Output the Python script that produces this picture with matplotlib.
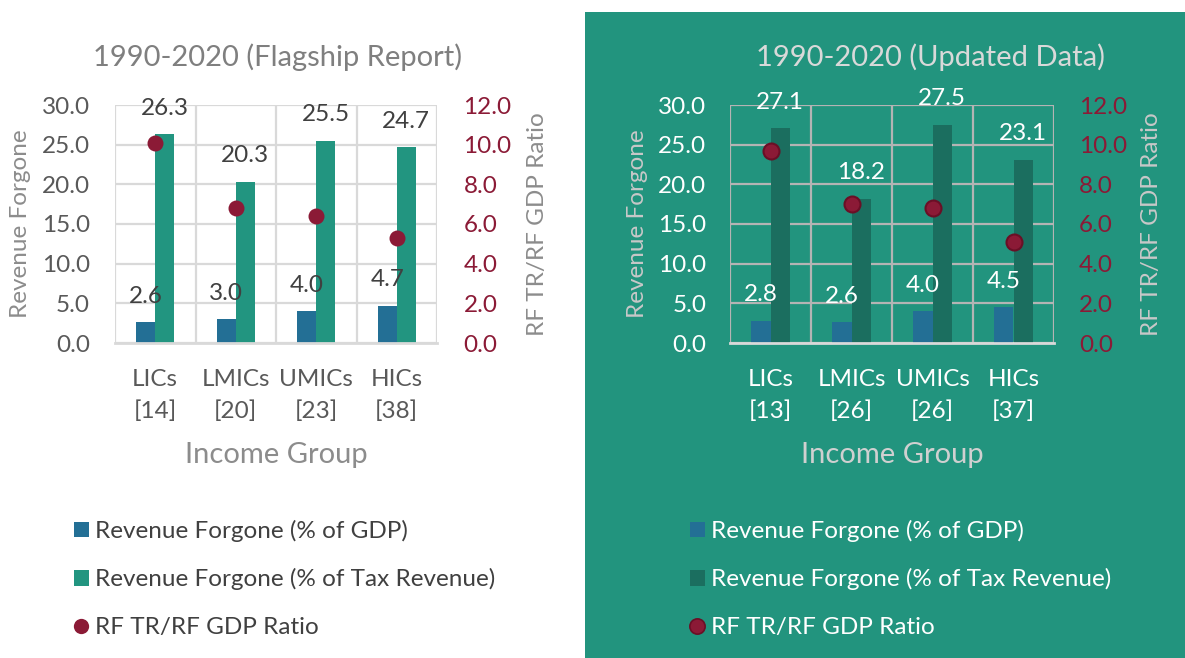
import matplotlib
matplotlib.use("Agg")
import matplotlib.pyplot as plt
import numpy as np
from matplotlib.patches import Rectangle, Patch
from matplotlib.lines import Line2D

plt.rcParams['font.family'] = ['Lato', 'DejaVu Sans']

categories = ["LICs", "LMICs", "UMICs", "HICs"]
flagship_counts = [14, 20, 23, 38]
updated_counts = [13, 26, 26, 37]
flagship_gdp = [2.6, 3.0, 4.0, 4.7]
flagship_tax = [26.3, 20.3, 25.5, 24.7]
flagship_ratio = [10.1, 6.8, 6.4, 5.3]
updated_gdp = [2.8, 2.6, 4.0, 4.5]
updated_tax = [27.1, 18.2, 27.5, 23.1]
updated_ratio = [9.7, 7.0, 6.8, 5.1]
left_ticks = [0, 5, 10, 15, 20, 25, 30]
right_ticks = [0, 2, 4, 6, 8, 10, 12]
legend_labels = ["Revenue Forgone (% of GDP)",
                 "Revenue Forgone (% of Tax Revenue)",
                 "RF TR/RF GDP Ratio"]

W, H = 1185, 658
DPI = 100
fig = plt.figure(figsize=(W / DPI, H / DPI), dpi=DPI)
fig.patch.set_facecolor('white')

PANEL = '#22947E'
fig.patches.append(Rectangle((585 / W, 0), 600 / W, (H - 12) / H,
                             transform=fig.transFigure, facecolor=PANEL,
                             edgecolor='none', zorder=-10))

FS = 17.5
RED = '#8B1A36'


def px(x, y, w, h):
    return [x / W, (H - y - h) / H, w / W, h / H]


def draw(rect, gdp, tax, ratio, counts, title, title_x, style):
    ax = fig.add_axes(px(*rect))
    ax.set_facecolor('none')
    ax2 = ax.twinx()
    x = np.arange(len(categories))
    w = 0.235
    ax.bar(x - w / 2, gdp, w, color=style['blue'], zorder=3)
    ax.bar(x + w / 2, tax, w, color=style['green'], zorder=3)
    ax2.plot(x, ratio, 'o', ms=11.5, color=RED, mec=style['dot_edge'],
             mew=style['dot_mew'], zorder=5)
    ax.set_xlim(-0.5, 3.5)
    ax.set_ylim(0, 30)
    ax2.set_ylim(0, 12)
    ax.set_yticks(left_ticks)
    ax.set_yticklabels([f"{v:.1f}" for v in left_ticks])
    ax2.set_yticks(right_ticks)
    ax2.set_yticklabels([f"{v:.1f}" for v in right_ticks])
    ax.set_xticks(x)
    ax.set_xticklabels([f"{c}\n[{n}]" for c, n in zip(categories, counts)],
                       linespacing=1.55)
    ax.set_xticks(np.arange(-0.5, 4.0, 1.0), minor=True)
    ax.tick_params(axis='x', which='minor', length=0)
    for a in (ax, ax2):
        for s in a.spines.values():
            s.set_visible(False)
    ax.grid(axis='y', which='major', color=style['grid'], lw=1.6, zorder=0)
    ax.grid(axis='x', which='minor', color=style['grid'], lw=1.6, zorder=0)
    ax.tick_params(axis='y', length=0, pad=style['lpad'], labelsize=FS,
                   labelcolor=style['tick'])
    ax.tick_params(axis='x', which='major', length=0, pad=19, labelsize=FS,
                   labelcolor=style['tick'])
    ax2.tick_params(axis='y', length=0, pad=style['rpad'], labelsize=FS,
                    labelcolor=RED)
    ax.axhline(0, color=style['base'], lw=2, zorder=4, clip_on=False)
    for xi, v in zip(x - w / 2, gdp):
        ax.annotate(f"{v:.1f}", (xi, v), xytext=(0, 26),
                    textcoords='offset pixels', ha='center', va='center',
                    fontsize=FS, color=style['label'], zorder=6)
    for xi, v in zip(x + w / 2, tax):
        ax.annotate(f"{v:.1f}", (xi, v), xytext=(0, 26),
                    textcoords='offset pixels', ha='center', va='center',
                    fontsize=FS, color=style['label'], zorder=6)
    ax.set_ylabel("Revenue Forgone", fontsize=FS, color=style['axlabel'])
    ax.yaxis.set_label_coords((style['ylab_x'] - rect[0]) / rect[2], 0.5)
    ax2.set_ylabel("RF TR/RF GDP Ratio", fontsize=FS, color=style['axlabel'],
                   rotation=90)
    ax2.yaxis.set_label_coords((style['y2lab_x'] - rect[0]) / rect[2], 0.5)
    ax.set_xlabel("Income Group", fontsize=21, color=style['xlabel'])
    ax.xaxis.set_label_coords(0.5, -(442 - (rect[1] + rect[3])) / rect[3])
    fig.text(title_x / W, 1 - 57 / H, title, fontsize=21,
             color=style['title'], ha='center', va='center')
    return ax


left_style = dict(blue='#236F95', green='#229580', dot_edge=RED, dot_mew=0,
                  grid='#D9D9D9', base='#D9D9D9', tick='#595959',
                  label='#404040', axlabel='#8C8C8C', xlabel='#8C8C8C',
                  title='#7F7F7F', lpad=18, rpad=19, ylab_x=31, y2lab_x=527)
right_style = dict(blue='#236F95', green='#1B6E5F', dot_edge='#6A0F26',
                   dot_mew=1.5, grid='#B4B4B4', base='#D9D9D9',
                   tick='#FFFFFF', label='#FFFFFF', axlabel='#C8C8C8',
                   xlabel='#D0D0D0', title='#D9D9D9', lpad=17, rpad=18,
                   ylab_x=648, y2lab_x=1141)

draw((115, 105, 322, 238), flagship_gdp, flagship_tax, flagship_ratio,
     flagship_counts, "1990-2020 (Flagship Report)", 278, left_style)
draw((730, 105, 324, 238), updated_gdp, updated_tax, updated_ratio,
     updated_counts, "1990-2020 (Updated Data)", 930, right_style)


def make_legend(x0, y0, blue, green, dot_edge, mew, tcolor):
    handles = [Patch(facecolor=blue, edgecolor='none'),
               Patch(facecolor=green, edgecolor='none'),
               Line2D([], [], ls='none', marker='o', ms=11, color=RED,
                      mec=dot_edge, mew=mew)]
    leg = fig.legend(handles, legend_labels, loc='upper left',
                     bbox_to_anchor=(x0 / W, 1 - y0 / H), frameon=False,
                     fontsize=FS, labelcolor=tcolor, handlelength=0.6,
                     handleheight=0.6, handletextpad=0.25, labelspacing=1.08,
                     borderpad=0, borderaxespad=0)
    return leg


make_legend(74, 520, '#236F95', '#229580', RED, 0, '#404040')
make_legend(690, 520, '#236F95', '#1B6E5F', '#6A0F26', 1.2, '#FFFFFF')

fig.savefig('out.png', dpi=DPI, facecolor=fig.get_facecolor())
